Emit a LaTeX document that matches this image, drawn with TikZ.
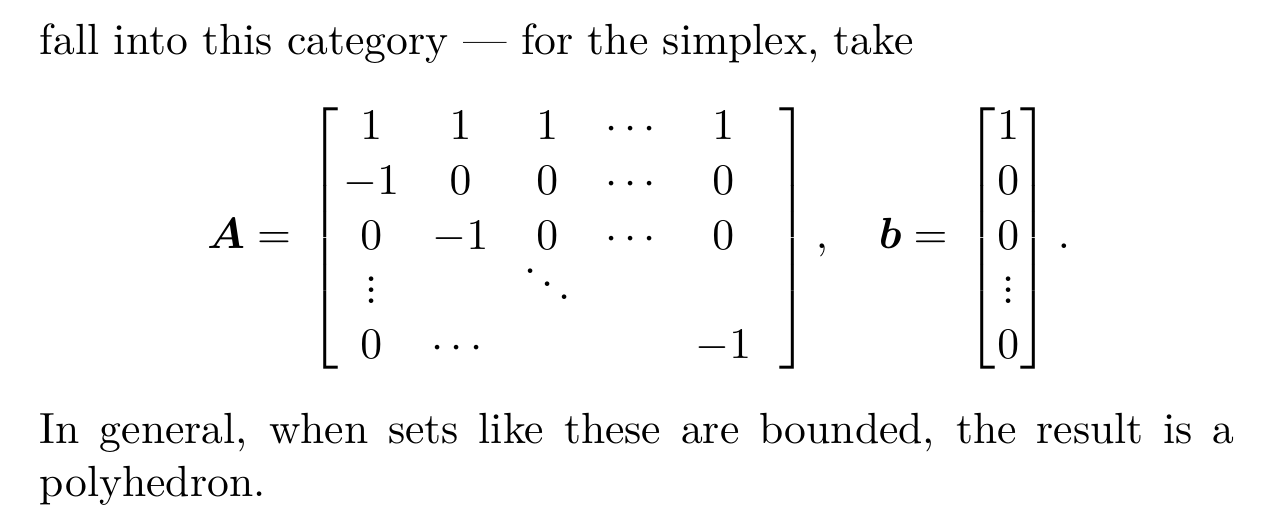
\documentclass[tikz,border=0pt]{standalone}
\usepackage{amsmath,bm}
\newcommand{\shortvdots}{\mathord{\vbox{\baselineskip=2.6pt\lineskiplimit=-10pt\lineskip=0pt\hbox{.}\hbox{.}\hbox{.}}}}
\begin{document}
\begin{tikzpicture}[x=1pt,y=1pt]
\tikzset{txt/.style={inner sep=0pt, outer sep=0pt}}
\useasboundingbox (0,0) rectangle (291.06,-121.1);
\node[txt, anchor=base west] (l1) at (9.17,-12.6) {fall into this category --- for the simplex, take};
\node[txt, anchor=west] (eq) at (47.5,-54.6) {\renewcommand{\arraystretch}{1.05}\setlength{\arraycolsep}{3.7pt}$\displaystyle \bm{A} =\mkern2.5mu \left[\begin{array}{@{\hspace{1.2pt}}ccccc@{\hspace{6.5pt}}} 1 & 1 & 1 & \cdots & 1 \\ -1 & 0 & 0 & \cdots & 0\\ 0 & -1 & 0 & \cdots & 0 \\ \shortvdots & & \smash{\ddots} & & \\ 0 & \cdots & & & -1 \end{array}\right], \quad \bm{b} =\mkern3mu \left[\begin{array}{@{\hspace{0.35pt}}c@{\hspace{0.35pt}}}1\\0\\0\\\shortvdots\\0\end{array}\right]\mkern0.3mu.$};
\node[txt, anchor=base west] (p) at (9.17,-101.8) {\parbox[t]{274pt}{\hyphenpenalty=10000 In general, when sets like these are bounded, the result is a polyhedron.}};
\end{tikzpicture}
\end{document}
